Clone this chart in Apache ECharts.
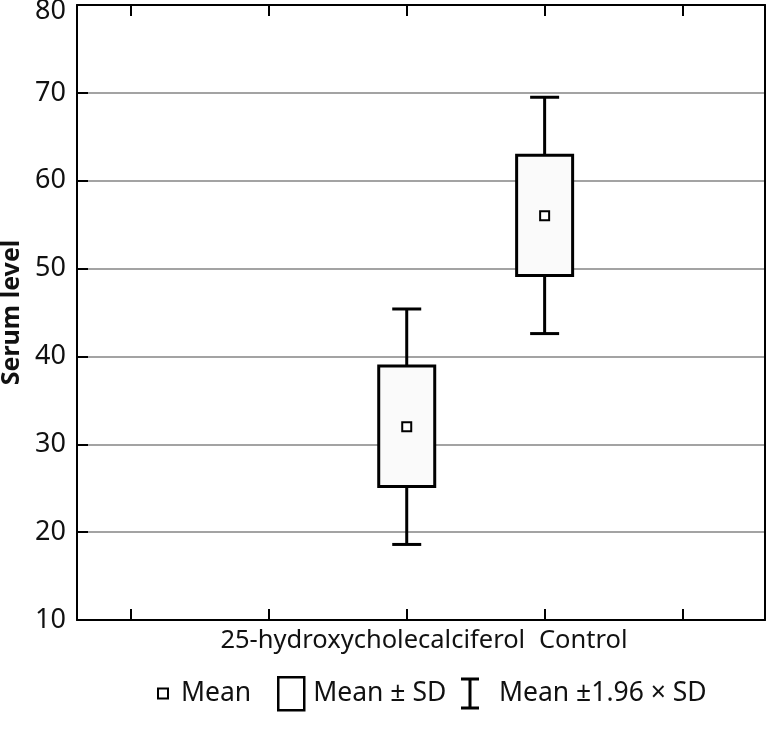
<!DOCTYPE html>
<html><head><meta charset="utf-8">
<script src="https://cdn.jsdelivr.net/npm/echarts@6/dist/echarts.min.js"></script>
<style>html,body{margin:0;padding:0;background:#fff}#c{width:766px;height:738px}</style>
</head><body><div id="c"></div>
<script>
const categories = ['25-hydroxycholecalciferol', 'Control'];
const catPositions = [2, 3];
const means = [32.0, 56.0];
const sdLow = [25.2, 49.2];
const sdHigh = [38.9, 62.9];
const ciLow = [18.6, 42.6];
const ciHigh = [45.4, 69.5];
const yMin = 10, yMax = 80, yStep = 10;
const xTickValues = [0, 1, 2, 3, 4];
const legendNames = ['Mean', 'Mean ± SD', 'Mean ±1.96 × SD'];
const yTitle = 'Serum level';

// label anchor offsets (layout only)
const labelPos = [1.754, 3.28];

const FONT = 'Noto Sans';
const chart = echarts.init(document.getElementById('c'), null, {renderer: 'canvas'});

const meanData = means.map((m, i) => [catPositions[i], m]);
const sdData = sdLow.map((l, i) => [catPositions[i], l, sdHigh[i]]);
const ciData = ciLow.map((l, i) => [catPositions[i], l, ciHigh[i]]);

const xCommon = {
  type: 'value', min: -0.391, max: 4.598,
  splitLine: {show: false},
  axisLine: {show: true, onZero: false, lineStyle: {color: '#000', width: 2}},
  axisTick: {show: true, inside: true, length: 11, customValues: xTickValues, lineStyle: {color: '#000', width: 2}}
};
const legendText = {fontFamily: FONT, fontSize: 26.5, color: '#111', lineHeight: 33};
const yLabelFont = {fontFamily: FONT, fontSize: 27, color: '#111'};

chart.setOption({
  animation: false,
  textStyle: {fontFamily: FONT},
  grid: {left: 77, right: 1, top: 5, bottom: 118, containLabel: false, outerBoundsMode: 'none'},
  xAxis: [
    Object.assign({}, xCommon, {
      position: 'bottom',
      axisLabel: {
        show: true, customValues: labelPos, margin: 8,
        fontFamily: FONT, fontSize: 25.5, color: '#111',
        formatter: v => { const i = labelPos.indexOf(v); return i >= 0 ? categories[i] : ''; }
      }
    }),
    Object.assign({}, xCommon, {position: 'top', axisLabel: {show: false}})
  ],
  yAxis: [
    {
      type: 'value', min: yMin, max: yMax, interval: yStep,
      name: yTitle, nameLocation: 'middle', nameRotate: 90, nameGap: 48,
      nameTextStyle: {fontFamily: FONT, fontSize: 25, fontWeight: 'bold', color: '#111'},
      axisLine: {show: true, onZero: false, lineStyle: {color: '#000', width: 2}},
      axisTick: {show: true, inside: true, length: 11, lineStyle: {color: '#000', width: 2}},
      axisLabel: Object.assign({}, yLabelFont, {
        margin: 11,
        formatter: v => (v === yMax ? '{top|' + v + '}' : String(v)),
        rich: {top: Object.assign({}, yLabelFont, {padding: [13, 0, 0, 0]})}
      }),
      splitLine: {show: true, lineStyle: {color: '#a3a3a3', width: 2}}
    },
    {
      type: 'value', min: yMin, max: yMax, interval: yStep, position: 'right',
      axisLine: {show: true, onZero: false, lineStyle: {color: '#000', width: 2}},
      axisTick: {show: false}, axisLabel: {show: false}, splitLine: {show: false}
    }
  ],
  legend: [
    {
      left: 157, top: 677, padding: 0, itemWidth: 10, itemHeight: 10,
      data: [{name: legendNames[0], icon: 'rect', itemStyle: {color: '#fff', borderColor: '#000', borderWidth: 2}}],
      textStyle: Object.assign({}, legendText, {padding: [0, 0, 0, 8]})
    },
    {
      left: 277, top: 676, padding: 0, itemWidth: 26, itemHeight: 33,
      data: [{name: legendNames[1], icon: 'rect', itemStyle: {color: '#fff', borderColor: '#000', borderWidth: 2.5}}],
      textStyle: Object.assign({}, legendText, {padding: [0, 0, 0, 4]})
    },
    {
      left: 461, top: 677, padding: 0, itemWidth: 30, itemHeight: 32,
      data: [{name: legendNames[2], icon: 'path://M0,0h18v3h-18z M7.5,0h3v32h-3z M0,29h18v3h-18z', itemStyle: {color: '#000', borderWidth: 0}}],
      textStyle: Object.assign({}, legendText, {padding: [0, 0, 0, 9]})
    }
  ],
  series: [
    {
      name: legendNames[2], type: 'custom', data: ciData, z: 2,
      renderItem: function (params, api) {
        const x = api.value(0);
        const lo = api.coord([x, api.value(1)]);
        const hi = api.coord([x, api.value(2)]);
        const half = 14.5;
        const st = {stroke: '#000', lineWidth: 3};
        return {type: 'group', children: [
          {type: 'line', shape: {x1: lo[0], y1: lo[1], x2: hi[0], y2: hi[1]}, style: st},
          {type: 'line', shape: {x1: lo[0] - half, y1: lo[1], x2: lo[0] + half, y2: lo[1]}, style: st},
          {type: 'line', shape: {x1: hi[0] - half, y1: hi[1], x2: hi[0] + half, y2: hi[1]}, style: st}
        ]};
      }
    },
    {
      name: legendNames[1], type: 'custom', data: sdData, z: 3,
      renderItem: function (params, api) {
        const x = api.value(0);
        const lo = api.coord([x, api.value(1)]);
        const hi = api.coord([x, api.value(2)]);
        const w = 56;
        return {type: 'rect', shape: {x: lo[0] - w / 2, y: hi[1], width: w, height: lo[1] - hi[1]},
          style: {fill: '#fafafa', stroke: '#000', lineWidth: 3}};
      }
    },
    {
      name: legendNames[0], type: 'scatter', data: meanData, z: 4,
      symbol: 'rect', symbolSize: 9,
      itemStyle: {color: '#fff', borderColor: '#000', borderWidth: 2, opacity: 1}
    }
  ]
});
</script></body></html>
